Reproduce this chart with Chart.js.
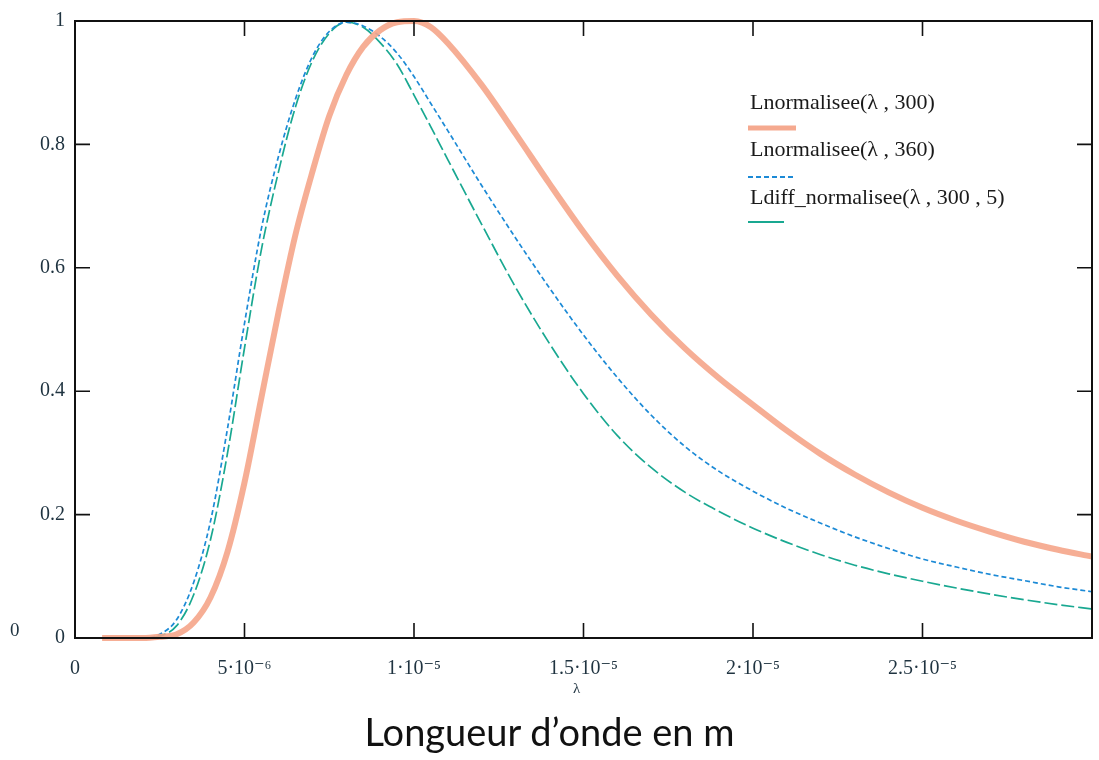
<!DOCTYPE html>
<html>
<head>
<meta charset="utf-8">
<title>Lnormalisee</title>
<script src="https://cdn.jsdelivr.net/npm/chart.js@4.4.1/dist/chart.umd.min.js"></script>
<style>
    html, body { margin: 0; padding: 0; background: #fff; }
    #wrap { position: relative; width: 1099px; height: 760px; overflow: hidden; }
    #chart { position: absolute; left: 0; top: 0; }
    .lbl { position: absolute; font-family: "Liberation Serif", "DejaVu Serif", serif; color: #1f3340; white-space: nowrap; }
    .leg { position: absolute; font-family: "Liberation Serif", "DejaVu Serif", serif; font-size: 22px; color: #1a1a1a; white-space: nowrap; }
    .swatch { position: absolute; }
    #xtitle { position: absolute; left: 0; width: 1099px; top: 708px; text-align: center; font-family: Lato, "Open Sans", sans-serif; font-size: 38px; color: #111; }
</style>
</head>
<body>
<div id="wrap">
    <canvas id="chart" width="1099" height="760"></canvas>

    <!-- legend -->
    <div class="leg" style="left:750px; top:89px;">Lnormalisee(λ , 300)</div>
    <svg class="swatch" style="left:746px; top:122px;" width="60" height="12"><line x1="2" y1="6" x2="50" y2="6" stroke="#f5a98f" stroke-width="5"/></svg>
    <div class="leg" style="left:750px; top:136px;">Lnormalisee(λ , 360)</div>
    <svg class="swatch" style="left:746px; top:171px;" width="60" height="12"><line x1="2" y1="6" x2="50" y2="6" stroke="#1c8ad6" stroke-width="2" stroke-dasharray="5,3"/></svg>
    <div class="leg" style="left:750px; top:184px;">Ldiff_normalisee(λ , 300 , 5)</div>
    <svg class="swatch" style="left:746px; top:216px;" width="60" height="12"><line x1="2" y1="6" x2="38" y2="6" stroke="#19a891" stroke-width="2"/></svg>

    <div class="lbl" style="left:10px; top:619px; font-size:19px;">0</div>
    <div class="lbl" style="left:573px; top:680px; font-size:15px;">λ</div>
    <div id="xtitle">Longueur d’onde en m</div>
</div>

<script>
// wavelengths in micrometres (converted to metres for the axis)
const lambdaUm = [0.8, 1, 1.5, 2, 2.5, 3, 3.5, 4, 4.5, 5, 5.5, 6, 6.5, 7, 7.5, 8, 8.5, 9, 9.5, 10, 10.5, 11,
    12, 13, 14, 15, 16, 17, 18, 19, 20, 21, 22, 23, 24, 25, 26, 27, 28, 29, 30];

// Lnormalisee(λ, 300)
const lNorm300 = [0, 0, 0, 0, 0.002, 0.006, 0.025, 0.066, 0.14, 0.252, 0.39, 0.527, 0.653, 0.755, 0.846, 0.912,
    0.958, 0.985, 0.998, 1.0, 0.99, 0.964,
    0.896, 0.817, 0.736, 0.658, 0.587, 0.524, 0.469, 0.421, 0.378, 0.336, 0.298, 0.265, 0.236, 0.211,
    0.19, 0.172, 0.156, 0.143, 0.132];

// Lnormalisee(λ, 360)
const lNorm360 = [0, 0, 0, 0, 0.006, 0.03, 0.09, 0.19, 0.34, 0.51, 0.664, 0.78, 0.873, 0.942, 0.983, 0.998,
    0.992, 0.975, 0.948, 0.91, 0.866, 0.822,
    0.733, 0.648, 0.567, 0.491, 0.422, 0.361, 0.31, 0.27, 0.238, 0.21, 0.186, 0.164, 0.145, 0.128,
    0.115, 0.103, 0.093, 0.083, 0.075];

// Ldiff_normalisee(λ, 300, 5)
const lDiff = [0, 0, 0, 0, 0.003, 0.02, 0.07, 0.16, 0.3, 0.47, 0.63, 0.755, 0.86, 0.935, 0.98, 0.998,
    0.99, 0.965, 0.93, 0.88, 0.828, 0.775,
    0.67, 0.568, 0.477, 0.396, 0.328, 0.276, 0.236, 0.205, 0.178, 0.155, 0.135, 0.118, 0.104, 0.092,
    0.081, 0.071, 0.062, 0.054, 0.047];

const xTickLabels = ['0', '5·10⁻⁶', '1·10⁻⁵', '1.5·10⁻⁵', '2·10⁻⁵', '2.5·10⁻⁵', ''];
const yTickLabels = ['0', '0.2', '0.4', '0.6', '0.8', '1'];

function toPoints(values) {
    return lambdaUm.map((l, i) => ({ x: l * 1e-6, y: values[i] }));
}

// box + inward ticks on all four sides
const frameTicks = {
    id: 'frameTicks',
    afterDraw(chart) {
        const { ctx, chartArea: a, scales } = chart;
        const len = 15;
        ctx.save();
        ctx.strokeStyle = '#111';
        ctx.lineWidth = 2;
        ctx.strokeRect(a.left, a.top, a.right - a.left, a.bottom - a.top);
        ctx.lineWidth = 1.6;
        ctx.beginPath();
        scales.x.ticks.forEach(t => {
            const px = scales.x.getPixelForValue(t.value);
            if (px <= a.left + 1 || px >= a.right - 1) return;
            ctx.moveTo(px, a.bottom); ctx.lineTo(px, a.bottom - len);
            ctx.moveTo(px, a.top); ctx.lineTo(px, a.top + len);
        });
        scales.y.ticks.forEach(t => {
            const py = scales.y.getPixelForValue(t.value);
            if (py <= a.top + 1 || py >= a.bottom - 1) return;
            ctx.moveTo(a.left, py); ctx.lineTo(a.left + len, py);
            ctx.moveTo(a.right, py); ctx.lineTo(a.right - len, py);
        });
        ctx.stroke();
        ctx.restore();
    }
};

const tickFont = { family: '"Liberation Serif", "DejaVu Serif", serif', size: 20 };

new Chart(document.getElementById('chart'), {
    type: 'line',
    data: {
        datasets: [
            {
                label: 'Lnormalisee(λ , 300)',
                data: toPoints(lNorm300),
                borderColor: 'rgba(245, 165, 138, 0.9)',
                borderWidth: 6,
                clip: false
            },
            {
                label: 'Lnormalisee(λ , 360)',
                data: toPoints(lNorm360),
                borderColor: '#1c8ad6',
                borderWidth: 1.7,
                borderDash: [5, 3],
                clip: false
            },
            {
                label: 'Ldiff_normalisee(λ , 300 , 5)',
                data: toPoints(lDiff),
                borderColor: '#19a891',
                borderWidth: 1.7,
                borderDash: [13, 4],
                clip: false
            }
        ]
    },
    options: {
        responsive: false,
        animation: false,
        devicePixelRatio: 1,
        parsing: false,
        elements: {
            point: { radius: 0 },
            line: { cubicInterpolationMode: 'monotone', fill: false }
        },
        layout: { padding: { top: 21, right: 7, left: 0, bottom: 0 } },
        plugins: {
            legend: { display: false },
            tooltip: { enabled: false }
        },
        scales: {
            x: {
                type: 'linear',
                min: 0,
                max: 3e-5,
                grid: { display: false, drawTicks: false },
                border: { display: false },
                afterFit: scale => {
                    scale.height = 122;
                    scale.paddingLeft = 0;
                    scale.paddingRight = 0;
                },
                ticks: {
                    stepSize: 5e-6,
                    padding: 19,
                    maxRotation: 0,
                    autoSkip: false,
                    color: '#1f3340',
                    font: tickFont,
                    callback: (v, i) => xTickLabels[i] ?? ''
                }
            },
            y: {
                min: 0,
                max: 1,
                grid: { display: false, drawTicks: false },
                border: { display: false },
                afterFit: scale => {
                    scale.width = 75;
                    scale.paddingTop = 0;
                    scale.paddingBottom = 0;
                },
                ticks: {
                    stepSize: 0.2,
                    padding: 10,
                    color: '#1f3340',
                    font: tickFont,
                    callback: (v, i) => yTickLabels[i] ?? ''
                }
            }
        }
    },
    plugins: [frameTicks]
});
</script>
</body>
</html>
